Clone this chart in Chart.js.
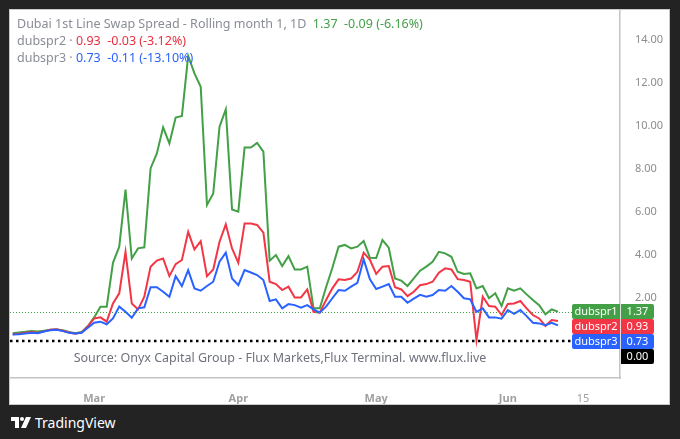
<!DOCTYPE html>
<html>
<head>
<meta charset="utf-8">
<script src="https://cdn.jsdelivr.net/npm/chart.js@4.4.1/dist/chart.umd.min.js"></script>
<style>
  body { margin: 0; background: #232323; width: 680px; height: 439px; overflow: hidden; font-family: "Noto Sans", sans-serif; }
  #panel { position: absolute; left: 9px; top: 9px; width: 661px; height: 396px; background: #fff; border: 1px solid #c9c9c9; box-sizing: border-box; }
  #wrap { position: absolute; left: 10px; top: 10px; width: 659px; height: 394px; }
  .lg { position: absolute; left: 17px; font-size: 12.5px; color: #8a8d96; white-space: pre; line-height: 16px; }
  .g { color: #43a047; } .r { color: #e8303f; } .b { color: #2962ff; }
  #src { position: absolute; left: 0; width: 560px; top: 349px; text-align: center; font-size: 12.5px; color: #6f727c; }
  #tv { position: absolute; left: 11px; top: 413px; color: #fff; font-size: 14px; display: flex; align-items: center; gap: 4px; }
</style>
</head>
<body>
<div id="panel"></div>
<div id="wrap"><canvas id="chart" width="659" height="394"></canvas></div>
<div class="lg" style="top:16px">Dubai 1st Line Swap Spread - Rolling month 1, 1D  <span class="g">1.37  -0.09 (-6.16%)</span></div>
<div class="lg" style="top:33px">dubspr2 · <span class="r">0.93  -0.03 (-3.12%)</span></div>
<div class="lg" style="top:50px">dubspr3 · <span class="b">0.73  -0.11 (-13.10%)</span></div>
<div id="src">Source: Onyx Capital Group - Flux Markets,Flux Terminal. www.flux.live</div>
<div id="tv">
  <svg width="20" height="11" viewBox="0 0 20 11"><path d="M0 0h8v11H4V4H0z" fill="#fff"/><circle cx="11" cy="2" r="2" fill="#fff"/><path d="M15 0h5l-5 11h-5z" fill="#fff"/></svg>
  <span>TradingView</span>
</div>
<script>
const seriesNames = ["dubspr1", "dubspr2", "dubspr3"];
const lastValues = [1.37, 0.93, 0.73];

const dubspr1 = [0.36, 0.40, 0.43, 0.47, 0.44, 0.48, 0.52, 0.54, 0.50, 0.42, 0.36, 0.42,
  0.70, 1.10, 1.60, 1.60, 3.64, 4.39, 7.05, 3.84, 4.31, 4.36, 8.03, 8.73, 9.94, 9.19,
  10.40, 10.47, 13.26, 12.45, 11.83, 6.33, 6.87, 9.97, 10.78, 6.12, 6.02, 9.00, 9.00,
  9.22, 8.81, 3.74, 4.00, 3.49, 3.95, 3.33, 3.33, 3.46, 1.52, 1.52, 2.50, 3.40, 4.39,
  4.47, 4.31, 4.39, 4.65, 3.87, 3.86, 4.70, 4.34, 2.91, 2.81, 2.56, 2.91, 3.27, 3.46,
  3.69, 4.15, 4.08, 3.92, 3.22, 3.12, 3.15, 2.45, 2.56, 1.99, 2.22, 1.63, 2.45, 2.34,
  2.45, 2.17, 1.91, 1.67, 1.24, 1.47, 1.37];

const dubspr2 = [0.32, 0.34, 0.38, 0.42, 0.38, 0.45, 0.52, 0.55, 0.48, 0.40, 0.34, 0.40,
  0.68, 1.05, 1.10, 0.90, 1.75, 2.22, 4.15, 1.75, 1.47, 2.06, 3.46, 3.74, 3.84, 3.02,
  3.58, 3.77, 5.08, 4.26, 4.65, 3.02, 3.33, 4.62, 5.43, 4.31, 3.64, 5.47, 5.47, 5.40,
  5.04, 2.76, 2.65, 2.37, 2.53, 2.03, 2.03, 2.40, 1.36, 1.32, 1.91, 2.45, 2.87, 2.84,
  2.91, 3.22, 4.11, 3.78, 3.12, 3.46, 3.49, 2.50, 2.40, 2.09, 2.29, 2.60, 2.65, 2.76,
  3.18, 3.38, 3.33, 2.88, 2.84, 2.76, 0.05, 2.06, 1.63, 1.60, 1.21, 1.72, 1.75, 1.86,
  1.52, 1.21, 1.05, 0.70, 0.98, 0.93];

const dubspr3 = [0.30, 0.32, 0.35, 0.38, 0.36, 0.44, 0.50, 0.52, 0.46, 0.38, 0.35, 0.38,
  0.62, 0.85, 0.90, 0.78, 1.05, 1.60, 1.36, 1.08, 1.52, 1.57, 2.50, 2.50, 2.29, 2.06,
  3.02, 2.56, 3.30, 2.45, 2.34, 2.56, 2.76, 3.69, 4.11, 2.91, 2.60, 3.30, 3.19, 3.07,
  2.84, 1.86, 1.94, 1.52, 1.72, 1.67, 1.55, 1.67, 1.47, 1.32, 1.60, 1.99, 2.37, 2.34,
  2.53, 2.71, 3.80, 2.87, 2.42, 2.53, 2.65, 2.06, 2.06, 1.78, 1.97, 2.15, 2.06, 2.14,
  2.37, 2.34, 2.56, 2.29, 1.99, 1.94, 1.36, 1.52, 1.10, 1.10, 1.04, 1.44, 1.26, 1.44,
  1.16, 0.85, 0.82, 0.74, 0.85, 0.73];

// x ticks (bar index) and their labels
const tickPos = [13, 36, 58, 79, 91];
const tickLabels = ["Mar", "Apr", "May", "Jun", "15"];
const priceTicks = [2, 4, 6, 8, 10, 12, 14];

const colors = ["#43a047", "#f23645", "#2962ff"];

function toXY(arr) {
  return arr.map((v, i) => ({ x: i, y: v }));
}

const priceLabels = {
  id: "priceLabels",
  afterDraw(chart) {
    const ctx = chart.ctx;
    const area = chart.chartArea;
    const y = chart.scales.y;

    // dotted price line of last dubspr1 value
    ctx.save();
    ctx.strokeStyle = colors[0];
    ctx.lineWidth = 1;
    ctx.setLineDash([1, 2]);
    const yl = Math.round(y.getPixelForValue(lastValues[0])) + 0.5;
    ctx.beginPath();
    ctx.moveTo(area.left, yl);
    ctx.lineTo(area.right - 48, yl);
    ctx.stroke();

    // zero line
    ctx.strokeStyle = "#000";
    ctx.lineWidth = 2.5;
    ctx.setLineDash([2.5, 3.5]);
    const y0 = y.getPixelForValue(0);
    ctx.beginPath();
    ctx.moveTo(area.left, y0);
    ctx.lineTo(area.right, y0);
    ctx.stroke();
    ctx.restore();

    // stacked labels on the price axis
    const items = lastValues.map((v, i) => ({ v, name: seriesNames[i], color: colors[i] }));
    items.push({ v: 0, name: null, color: "#000" });
    const h = 15;
    let prevBottom = -Infinity;
    ctx.save();
    ctx.font = "11px 'Noto Sans'";
    ctx.textBaseline = "middle";
    items.forEach(it => {
      let top = y.getPixelForValue(it.v) - h / 2;
      if (top < prevBottom) top = prevBottom;
      prevBottom = top + h;
      const cy = top + h / 2;
      ctx.fillStyle = it.color;
      if (it.name) {
        ctx.beginPath();
        ctx.roundRect(area.right - 48, top, 48, h, [2, 0, 0, 2]);
        ctx.fill();
        ctx.fillStyle = "#fff";
        ctx.textAlign = "center";
        ctx.fillText(it.name, area.right - 24, cy);
        ctx.fillStyle = it.color;
      }
      ctx.beginPath();
      ctx.roundRect(area.right + 1, top, 33, h, [0, 2, 2, 0]);
      ctx.fill();
      ctx.fillStyle = "#fff";
      ctx.textAlign = "center";
      ctx.fillText(it.v.toFixed(2), area.right + 17.5, cy);
    });
    ctx.restore();
  }
};

new Chart(document.getElementById("chart"), {
  type: "line",
  data: {
    datasets: [
      { label: seriesNames[0], data: toXY(dubspr1), borderColor: colors[0], order: 3 },
      { label: seriesNames[1], data: toXY(dubspr2), borderColor: colors[1], order: 2 },
      { label: seriesNames[2], data: toXY(dubspr3), borderColor: colors[2], order: 1 }
    ]
  },
  options: {
    responsive: false,
    animation: false,
    layout: { padding: 0 },
    elements: { point: { radius: 0 }, line: { borderWidth: 2, tension: 0 } },
    plugins: { legend: { display: false }, tooltip: { enabled: false } },
    scales: {
      x: {
        type: "linear",
        min: -0.43,
        max: 96.9,
        grid: { display: false },
        border: { color: "#c4c4c4", width: 1.5 },
        afterBuildTicks: s => { s.ticks = tickPos.map(v => ({ value: v })); },
        afterFit: s => { s.height = 26; s.paddingLeft = 0; s.paddingRight = 0; },
        ticks: {
          autoSkip: false,
          maxRotation: 0,
          padding: 6,
          color: "#a0a0a0",
          font: c => ({ family: "Noto Sans", size: 11, weight: c.tick && c.tick.label === "15" ? "normal" : "bold" }),
          callback: v => tickLabels[tickPos.indexOf(v)]
        }
      },
      y: {
        position: "right",
        min: -1.72,
        max: 15.4,
        grid: { display: false },
        border: { color: "#c4c4c4", width: 1.5 },
        afterBuildTicks: s => { s.ticks = priceTicks.map(v => ({ value: v })); },
        afterFit: s => { s.width = 49; s.paddingTop = 0; s.paddingBottom = 0; },
        ticks: {
          padding: 7,
          color: "#8c8c8c",
          font: { family: "Noto Sans", size: 11 },
          callback: v => v.toFixed(2)
        }
      }
    }
  },
  plugins: [priceLabels]
});
</script>
</body>
</html>
